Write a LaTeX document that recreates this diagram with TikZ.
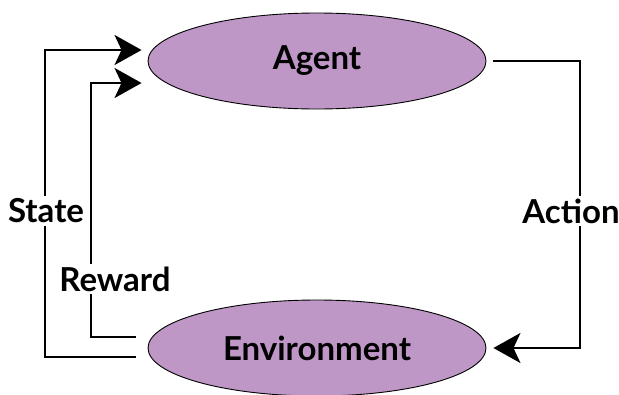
\documentclass[tikz,border=0pt]{standalone}
\usepackage{fontspec}
\setmainfont{Lato}
\usetikzlibrary{shapes.geometric,arrows.meta}
\definecolor{lav}{RGB}{191,151,199}
\begin{document}
\begin{tikzpicture}[x=1pt,y=-1pt,
  blob/.style={ellipse,draw=black,line width=0.9pt,fill=lav,minimum width=338pt,minimum height=96pt,inner sep=0pt,font=\fontsize{33}{36}\selectfont\bfseries},
  conn/.style={line width=2.6pt,draw=black},
  arr/.style={conn,-{Stealth[length=27pt,width=30pt,inset=7pt]}},
  lbl/.style={fill=white,inner sep=3pt,font=\fontsize{33}{36}\selectfont\bfseries}]
\useasboundingbox (0,0) rectangle (619,394);
\node[blob] (agent) at (317,61) {Agent};
\node[blob] (env) at (317,348) {Environment};
\draw[arr] ([xshift=-12pt,yshift=-9pt]env.west) -- (45,357) coordinate (sc) |- ([xshift=-6pt,yshift=11pt]agent.west);
\draw[arr] ([xshift=-12pt,yshift=11pt]env.west) -- (91,337) coordinate (rc) |- ([xshift=-6pt,yshift=-22pt]agent.west);
\draw[arr] ([xshift=7pt]agent.east) -- (580,61) coordinate (ac) |- ([xshift=7pt]env.east);
\node[lbl] (state) at (46,211) {State};
\node[lbl] (reward) at (115,279) {Reward};
\node[lbl] (action) at (571,211) {Action};
\end{tikzpicture}
\end{document}
